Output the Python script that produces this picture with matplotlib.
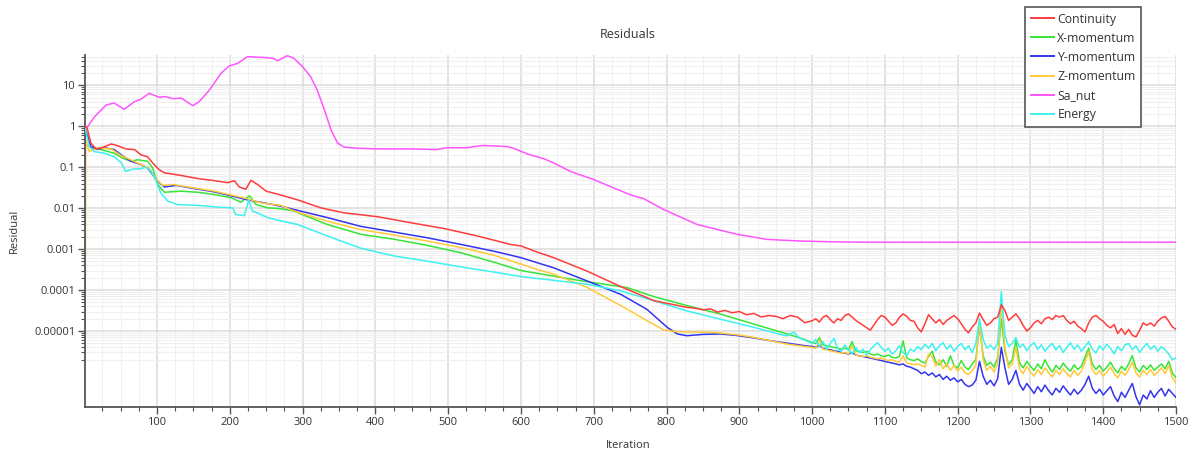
import matplotlib
matplotlib.use("Agg")
import matplotlib.pyplot as plt
from matplotlib.ticker import MultipleLocator, FixedLocator, NullFormatter
import numpy as np

plt.rcParams["font.family"] = ["Open Sans", "DejaVu Sans"]

# ---- data ----
tail_iter = np.arange(1000, 1501, 5)

sa_nut_iter = [1, 4, 14, 30, 41, 55, 69, 78, 89, 103, 112, 122, 133, 149, 158, 172,
               188, 199, 211, 224, 247, 259, 266, 279, 288, 300, 311, 320, 330, 339,
               348, 357, 375, 407, 449, 483, 499, 526, 547, 581, 590, 609, 632, 645,
               668, 700, 728, 751, 769, 796, 842, 897, 938, 984, 1002, 1048, 1100,
               1200, 1300, 1400, 1500]
sa_nut = [0.9, 0.95, 1.7, 3.3, 3.7, 2.6, 4.0, 4.6, 6.4, 5.1, 5.3, 4.7, 4.9, 3.2, 4.0, 7.7,
          19.7, 29.6, 34.5, 50, 48, 45.6, 40, 53, 45.6, 28.5, 16.3, 7.7, 2.5, 0.82,
          0.39, 0.31, 0.29, 0.28, 0.28, 0.27, 0.30, 0.30, 0.34, 0.32, 0.29, 0.21, 0.16,
          0.127, 0.079, 0.050, 0.031, 0.021, 0.017, 0.0093, 0.0040, 0.0023, 0.00173,
          0.00158, 0.00155, 0.00149, 0.00148, 0.00148, 0.00148, 0.00148, 0.00148]

cont_iter = [1, 4, 9, 16, 23, 37, 46, 57, 69, 78, 87, 94, 103, 110, 133, 156, 179, 197,
             206, 213, 222, 229, 238, 250, 270, 293, 325, 357, 403, 449, 494, 540, 586,
             600, 622, 645, 691, 737, 783, 828, 840, 850, 860, 870, 880, 890, 900, 910,
             920, 930, 940, 950, 960, 970, 980, 990]
cont_head = [1.0, 0.9, 0.39, 0.28, 0.295, 0.37, 0.335, 0.28, 0.27, 0.20, 0.18, 0.127,
             0.087, 0.073, 0.063, 0.053, 0.047, 0.042, 0.047, 0.033, 0.029, 0.048, 0.038,
             0.026, 0.021, 0.016, 0.0102, 0.0077, 0.0062, 0.0044, 0.0032, 0.0021, 0.0013,
             0.0012, 0.00085, 0.00062, 0.00029, 0.000122, 5.5e-5, 3.8e-5, 3.6e-5, 3.3e-5,
             3.5e-5, 2.9e-5, 3.2e-5, 2.8e-5, 3.0e-5, 2.5e-5, 2.7e-5, 2.2e-5, 2.4e-5,
             2.3e-5, 2.0e-5, 2.4e-5, 2.2e-5, 1.6e-5]
cont_tail = [1.78e-5, 2.0e-5, 1.66e-5, 2.19e-5, 2.4e-5, 1.91e-5, 1.58e-5, 2.0e-5, 1.82e-5, 2.4e-5,
             2.63e-5, 2.19e-5, 1.82e-5, 1.58e-5, 1.38e-5, 1.2e-5, 1.05e-5, 1.41e-5, 1.91e-5, 2.4e-5,
             2.19e-5, 1.74e-5, 1.38e-5, 1.58e-5, 2.19e-5, 2.63e-5, 2.29e-5, 1.82e-5, 1.74e-5, 1.2e-5,
             9.5e-6, 1.51e-5, 2.51e-5, 2.0e-5, 1.58e-5, 1.91e-5, 1.45e-5, 1.82e-5, 2.09e-5, 2.4e-5,
             2.0e-5, 1.51e-5, 1.1e-5, 9.1e-6, 1.26e-5, 1.58e-5, 2.75e-5, 1.91e-5, 1.38e-5, 1.58e-5,
             2.0e-5, 2.19e-5, 4.37e-5, 3.16e-5, 1.82e-5, 2.19e-5, 2.63e-5, 2.0e-5, 1.38e-5, 1.0e-5,
             1.2e-5, 1.58e-5, 1.82e-5, 1.51e-5, 2.0e-5, 2.19e-5, 1.91e-5, 2.4e-5, 2.19e-5, 2.4e-5,
             1.82e-5, 1.51e-5, 1.74e-5, 1.32e-5, 1.15e-5, 9.5e-6, 1.58e-5, 2.19e-5, 2.4e-5, 2.0e-5,
             1.74e-5, 1.38e-5, 1.2e-5, 1.45e-5, 8.7e-6, 1.15e-5, 8.3e-6, 1.1e-5, 7.9e-6, 7.2e-6,
             1.05e-5, 1.58e-5, 1.38e-5, 1.58e-5, 1.32e-5, 1.74e-5, 2.09e-5, 2.29e-5, 1.74e-5, 1.26e-5,
             1.1e-5]

xmom_iter = [1, 9, 23, 41, 55, 64, 73, 87, 94, 101, 110, 133, 156, 179, 202, 215, 227,
             236, 252, 270, 288, 334, 380, 426, 471, 517, 563, 600, 645, 686, 746, 783,
             828, 874, 920, 966, 990]
xmom_head = [0.9, 0.295, 0.27, 0.22, 0.16, 0.14, 0.152, 0.14, 0.096, 0.038, 0.0245,
             0.026, 0.0245, 0.0215, 0.018, 0.014, 0.020, 0.0123, 0.0102, 0.0097, 0.0085,
             0.0040, 0.0023, 0.00174, 0.00124, 0.00082, 0.00048, 0.0003, 0.00022,
             0.000165, 0.000115, 6.9e-5, 4.2e-5, 2.6e-5, 1.48e-5, 8.5e-6, 6.2e-6]
xmom_tail = [5.25e-6, 5.0e-6, 6.9e-6, 4.6e-6, 4.4e-6, 4.2e-6, 4.0e-6, 3.8e-6, 3.6e-6, 3.8e-6,
             3.5e-6, 5.5e-6, 3.3e-6, 3.2e-6, 3.0e-6, 3.2e-6, 2.75e-6, 2.6e-6, 2.75e-6, 2.5e-6,
             2.4e-6, 2.6e-6, 2.3e-6, 2.2e-6, 2.4e-6, 5.75e-6, 2.2e-6, 2.0e-6, 1.9e-6, 2.1e-6,
             1.8e-6, 1.66e-6, 2.4e-6, 3.2e-6, 1.74e-6, 1.5e-6, 2.0e-6, 1.38e-6, 2.5e-6, 1.45e-6,
             1.26e-6, 1.9e-6, 1.32e-6, 1.15e-6, 1.58e-6, 2.0e-6, 1.32e-5, 2.5e-6, 1.45e-6, 1.74e-6,
             1.32e-6, 2.2e-6, 2.0e-5, 3.2e-6, 1.5e-6, 2.0e-6, 6.0e-6, 1.66e-6, 1.26e-6, 1.82e-6,
             1.38e-6, 1.1e-6, 1.58e-6, 1.2e-6, 2.0e-6, 1.32e-6, 1.0e-6, 1.45e-6, 1.15e-6, 1.66e-6,
             1.26e-6, 1.05e-6, 1.5e-6, 1.15e-6, 1.38e-6, 2.3e-6, 3.8e-6, 1.58e-6, 1.15e-6, 1.45e-6,
             1.05e-6, 1.32e-6, 1.74e-6, 1.2e-6, 9.5e-7, 1.38e-6, 1.1e-6, 1.58e-6, 2.5e-6, 1.26e-6,
             1.0e-6, 1.45e-6, 1.15e-6, 1.5e-6, 1.1e-6, 1.32e-6, 1.58e-6, 1.2e-6, 1.82e-6, 9.5e-7,
             7.2e-7]

ymom_iter = [1, 9, 18, 30, 41, 51, 64, 78, 87, 94, 101, 110, 126, 147, 179, 202, 224,
             247, 270, 288, 334, 380, 426, 471, 517, 563, 600, 645, 691, 737, 773, 801,
             815, 828, 850, 874, 897, 920, 943, 975, 990]
ymom_head = [0.9, 0.32, 0.28, 0.295, 0.27, 0.20, 0.14, 0.116, 0.096, 0.066, 0.045,
             0.033, 0.036, 0.031, 0.025, 0.020, 0.016, 0.0135, 0.0112, 0.0093, 0.0059,
             0.0036, 0.0026, 0.0019, 0.00131, 0.00089, 0.00062, 0.00035, 0.000167,
             7.9e-5, 3.4e-5, 1.23e-5, 8.5e-6, 7.7e-6, 8.3e-6, 8.5e-6, 7.8e-6, 6.8e-6,
             5.8e-6, 4.8e-6, 4.4e-6]
ymom_tail = [4.2e-6, 4.0e-6, 4.4e-6, 3.8e-6, 3.6e-6, 3.5e-6, 3.3e-6, 3.2e-6, 3.0e-6, 2.9e-6,
             2.75e-6, 3.0e-6, 2.6e-6, 2.5e-6, 2.4e-6, 2.3e-6, 2.2e-6, 2.1e-6, 2.0e-6, 1.9e-6,
             1.82e-6, 1.74e-6, 1.66e-6, 1.58e-6, 1.5e-6, 1.58e-6, 1.38e-6, 1.32e-6, 1.2e-6, 1.1e-6,
             9.1e-7, 1.0e-6, 8.3e-7, 9.5e-7, 7.6e-7, 8.7e-7, 6.6e-7, 7.9e-7, 6.3e-7, 7.2e-7,
             5.75e-7, 6.6e-7, 5.0e-7, 4.4e-7, 4.8e-7, 6.3e-7, 1.82e-6, 7.9e-7, 5.0e-7, 6.3e-7,
             4.6e-7, 6.9e-7, 4.0e-6, 1.26e-6, 5.0e-7, 6.6e-7, 1.1e-6, 5.0e-7, 3.6e-7, 5.25e-7,
             4.0e-7, 3.0e-7, 4.4e-7, 3.3e-7, 4.8e-7, 3.5e-7, 2.75e-7, 4.0e-7, 3.2e-7, 4.6e-7,
             3.5e-7, 2.75e-7, 3.8e-7, 2.9e-7, 3.6e-7, 5.0e-7, 7.9e-7, 4.0e-7, 3.0e-7, 3.8e-7,
             2.75e-7, 3.5e-7, 4.4e-7, 2.6e-7, 1.9e-7, 3.2e-7, 2.4e-7, 3.6e-7, 5.25e-7, 2.5e-7,
             1.58e-7, 2.75e-7, 2.2e-7, 3.5e-7, 2.4e-7, 3.2e-7, 4.0e-7, 2.6e-7, 3.8e-7, 3.0e-7,
             2.4e-7]

zmom_iter = [1, 2, 7, 18, 37, 51, 64, 78, 89, 99, 108, 122, 133, 179, 224, 243, 270,
             288, 334, 380, 426, 471, 517, 563, 600, 622, 645, 691, 737, 773, 796, 810,
             828, 865, 900, 920, 966, 990]
zmom_head = [2.8e-6, 0.45, 0.24, 0.295, 0.28, 0.19, 0.152, 0.116, 0.096, 0.050, 0.036,
             0.038, 0.035, 0.026, 0.017, 0.0135, 0.0117, 0.0085, 0.0048, 0.0030, 0.0022,
             0.00158, 0.00110, 0.00071, 0.00043, 0.00032, 0.000245, 0.000116, 4.2e-5,
             1.8e-5, 1.07e-5, 9.8e-6, 9.5e-6, 9.3e-6, 8.0e-6, 7.0e-6, 4.8e-6, 4.2e-6]
zmom_tail = [4.0e-6, 3.8e-6, 6.0e-6, 3.6e-6, 3.5e-6, 3.3e-6, 3.2e-6, 3.0e-6, 2.9e-6, 3.0e-6,
             2.75e-6, 4.4e-6, 2.6e-6, 2.5e-6, 2.4e-6, 2.5e-6, 2.3e-6, 2.2e-6, 2.1e-6, 2.2e-6,
             2.0e-6, 1.9e-6, 2.0e-6, 1.82e-6, 1.74e-6, 2.5e-6, 1.66e-6, 1.58e-6, 1.5e-6, 1.58e-6,
             1.45e-6, 1.32e-6, 2.75e-6, 2.4e-6, 1.38e-6, 2.0e-6, 1.2e-6, 1.58e-6, 1.1e-6, 1.45e-6,
             1.05e-6, 1.32e-6, 9.5e-7, 8.7e-7, 1.1e-6, 1.45e-6, 1.82e-5, 2.0e-6, 1.1e-6, 1.38e-6,
             1.0e-6, 1.58e-6, 4.6e-5, 4.0e-6, 1.26e-6, 1.58e-6, 4.0e-6, 1.2e-6, 9.1e-7, 1.38e-6,
             1.0e-6, 7.9e-7, 1.15e-6, 8.7e-7, 1.26e-6, 9.5e-7, 7.6e-7, 1.1e-6, 8.7e-7, 1.2e-6,
             9.1e-7, 7.6e-7, 1.1e-6, 8.3e-7, 1.05e-6, 1.74e-6, 3.2e-6, 1.15e-6, 8.7e-7, 1.1e-6,
             7.9e-7, 1.0e-6, 1.32e-6, 9.1e-7, 7.2e-7, 1.05e-6, 8.3e-7, 1.15e-6, 1.74e-6, 9.5e-7,
             7.6e-7, 1.1e-6, 8.7e-7, 1.15e-6, 8.3e-7, 1.0e-6, 1.26e-6, 9.1e-7, 1.45e-6, 7.2e-7,
             5.5e-7]

energy_iter = [1, 7, 14, 28, 41, 51, 57, 67, 76, 85, 92, 99, 105, 115, 128, 156, 188,
               204, 208, 220, 226, 231, 243, 252, 270, 293, 334, 380, 426, 471, 517, 563,
               600, 691, 737, 783, 828, 874, 920, 960, 966, 975, 982, 990]
energy_head = [0.9, 0.32, 0.24, 0.22, 0.18, 0.127, 0.079, 0.091, 0.091, 0.10, 0.079,
               0.045, 0.0236, 0.0148, 0.0123, 0.0117, 0.0105, 0.0102, 0.0070, 0.0066,
               0.016, 0.0085, 0.0070, 0.0059, 0.0049, 0.0040, 0.0021, 0.00105, 0.00068,
               0.00051, 0.00037, 0.000276, 0.000214, 0.000139, 9.6e-5, 5.5e-5, 3.1e-5,
               1.95e-5, 1.23e-5, 8.0e-6, 7.7e-6, 9.5e-6, 6.8e-6, 6.0e-6]
energy_tail = [5.0e-6, 6.3e-6, 4.2e-6, 5.5e-6, 3.6e-6, 5.0e-6, 6.6e-6, 3.8e-6, 3.2e-6, 4.6e-6,
               3.5e-6, 2.75e-6, 4.0e-6, 3.0e-6, 3.6e-6, 2.6e-6, 3.5e-6, 4.4e-6, 5.2e-6, 4.0e-6,
               3.2e-6, 3.8e-6, 2.75e-6, 3.3e-6, 4.4e-6, 3.0e-6, 2.5e-6, 3.6e-6, 3.2e-6, 4.2e-6,
               3.5e-6, 4.8e-6, 3.8e-6, 5.0e-6, 3.3e-6, 4.4e-6, 5.2e-6, 3.6e-6, 4.6e-6, 3.2e-6,
               4.2e-6, 5.0e-6, 3.5e-6, 4.4e-6, 3.0e-6, 5.0e-6, 2.0e-5, 6.3e-6, 3.8e-6, 4.6e-6,
               3.5e-6, 5.0e-6, 9.1e-5, 7.9e-6, 4.2e-6, 5.0e-6, 6.9e-6, 4.0e-6, 4.8e-6, 3.3e-6,
               4.4e-6, 5.2e-6, 3.6e-6, 4.6e-6, 3.2e-6, 4.2e-6, 5.0e-6, 3.5e-6, 4.4e-6, 3.0e-6,
               4.0e-6, 5.2e-6, 3.6e-6, 4.6e-6, 3.2e-6, 4.2e-6, 5.5e-6, 3.6e-6, 2.9e-6, 4.4e-6,
               3.5e-6, 4.8e-6, 3.8e-6, 2.75e-6, 4.2e-6, 3.3e-6, 4.6e-6, 5.0e-6, 3.5e-6, 4.4e-6,
               3.0e-6, 4.0e-6, 5.0e-6, 3.6e-6, 4.4e-6, 3.2e-6, 4.2e-6, 3.5e-6, 2.75e-6, 2.0e-6,
               2.2e-6]

y_tick_vals = [10, 1, 0.1, 0.01, 0.001, 0.0001, 0.00001]
y_tick_labels = ["10", "1", "0.1", "0.01", "0.001", "0.0001", "0.00001"]

# ---- figure ----
fig = plt.figure(figsize=(11.88, 4.55), dpi=100)
ax = fig.add_axes([85 / 1188, 1 - 407 / 455, (1176 - 85) / 1188, (407 - 55) / 455])

lw = 1.1
series = [
    ("Continuity", cont_iter, cont_head, cont_tail, "#ff3c3c"),
    ("X-momentum", xmom_iter, xmom_head, xmom_tail, "#36e436"),
    ("Y-momentum", ymom_iter, ymom_head, ymom_tail, "#3434ee"),
    ("Z-momentum", zmom_iter, zmom_head, zmom_tail, "#ffc93a"),
]
lines = {}
for name, it, head, tail, col in series:
    x = np.concatenate([it, tail_iter])
    y = np.concatenate([head, tail])
    lines[name], = ax.plot(x, y, color=col, lw=lw, label=name)
lines["Sa_nut"], = ax.plot(sa_nut_iter, sa_nut, color="#ff55ff", lw=lw, label="Sa_nut")
lines["Energy"], = ax.plot(np.concatenate([energy_iter, tail_iter]),
                           np.concatenate([energy_head, energy_tail]),
                           color="#3ef0f0", lw=lw, label="Energy")
# draw order similar to reference
lines["Continuity"].set_zorder(6)
lines["Energy"].set_zorder(3)

ax.set_yscale("log")
ax.set_xlim(1, 1500)
ax.set_ylim(1.4e-7, 55)

ax.set_yticks(y_tick_vals)
ax.set_yticklabels(y_tick_labels)
minor = [m * 10.0 ** k for k in range(-7, 2) for m in range(2, 10)]
minor = [v for v in minor if 2e-6 <= v <= 55]
ax.yaxis.set_minor_locator(FixedLocator(minor))
ax.yaxis.set_minor_formatter(NullFormatter())

ax.xaxis.set_major_locator(FixedLocator(range(100, 1501, 100)))
ax.xaxis.set_minor_locator(MultipleLocator(25))

ax.grid(which="major", color="#dedede", lw=1.2)
ax.grid(which="minor", color="#f0f0f0", lw=0.8)
ax.set_axisbelow(True)

for s in ["top", "right"]:
    ax.spines[s].set_visible(False)
for s in ["left", "bottom"]:
    ax.spines[s].set_color("#555555")
    ax.spines[s].set_linewidth(1.3)

ax.tick_params(which="major", direction="out", length=5, width=1, color="#555555",
               labelsize=8, labelcolor="#333333", pad=2)
ax.tick_params(which="minor", direction="out", length=3, width=0.8, color="#555555")

fig.text(628 / 1188, 1 - 35 / 455, "Residuals", ha="center", va="center",
         fontsize=9, color="#333333")
fig.text(628 / 1188, 1 - 446 / 455, "Iteration", ha="center", va="center",
         fontsize=8, color="#333333")
fig.text(14 / 1188, 1 - 231 / 455, "Residual", ha="center", va="center",
         rotation=90, fontsize=8, color="#333333")

order = ["Continuity", "X-momentum", "Y-momentum", "Z-momentum", "Sa_nut", "Energy"]
leg = fig.legend([lines[k] for k in order], order, loc="upper left",
                 bbox_to_anchor=(1025 / 1188, 1 - 7 / 455), fontsize=8.8,
                 frameon=True, fancybox=False, framealpha=1, edgecolor="#555555",
                 handlelength=1.9, handletextpad=0.3, labelspacing=0.5,
                 borderpad=0.45, borderaxespad=0)
leg.get_frame().set_linewidth(1.2)
for t in leg.get_texts():
    t.set_color("#333333")
for h in leg.get_lines():
    h.set_linewidth(1.4)

fig.savefig("out.png", dpi=100)
